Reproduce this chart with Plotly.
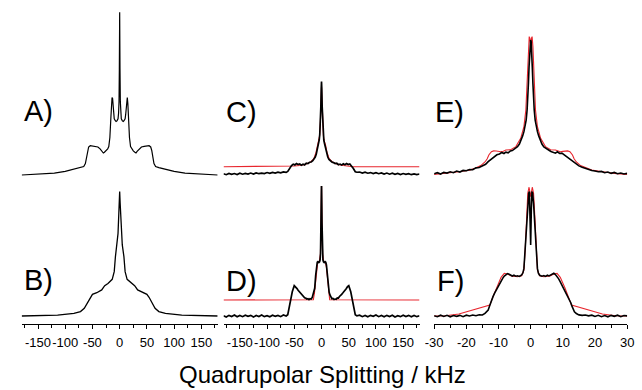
import plotly.graph_objects as go

# ---------------- data (kHz, normalised intensity) ----------------
A_x = [-180,-150,-120,-100,-85,-72,-66,-63,-61,-59,-57,-54,-50,-45,-40,-36,-32,-30,-28,-25,
       -22,-20,-18,-16,-15,-14,-13,-12,-11,-10,-8,-6.6,-5,-3,-2,-1.2,-0.6,-0.3,0,
       0.3,0.6,1.2,2,3,5,6.6,8,10,11,12,13,14,15,16,18,20,22,25,28,30,32,36,40,45,50,54,57,59,
       61,63,66,72,85,100,120,150,180]
A_y = [0.0,0.004,0.012,0.022,0.035,0.045,0.052,0.07,0.11,0.15,0.172,0.18,0.178,0.176,0.172,0.16,0.145,0.135,0.14,0.148,
       0.16,0.175,0.23,0.36,0.44,0.475,0.47,0.42,0.37,0.345,0.333,0.328,0.332,0.345,0.38,0.45,0.65,0.9,0.998,
       0.9,0.65,0.45,0.38,0.345,0.332,0.328,0.333,0.345,0.37,0.42,0.47,0.475,0.44,0.36,0.23,0.175,0.16,0.148,0.14,0.135,0.145,0.16,0.172,0.176,0.178,0.18,0.172,0.15,
       0.11,0.07,0.052,0.045,0.035,0.022,0.012,0.004,0.0]

B_x = [-180,-145,-114,-84,-72,-65,-60,-54,-50,-42,-33,-27.5,-21.5,-13.7,-10,-7.8,-4.8,-3,-1.8,-0.9,0,
       0.9,1.8,3,4.8,7.8,10,13.7,21.5,27.5,33,42,50,54,60,65,72,84,114,145,180]
B_y = [0,0.002,0.006,0.016,0.027,0.047,0.078,0.115,0.133,0.143,0.16,0.186,0.2,0.225,0.272,0.364,0.436,0.507,0.61,0.69,0.763,
       0.69,0.61,0.507,0.436,0.364,0.272,0.225,0.2,0.186,0.16,0.143,0.133,0.115,0.078,0.047,0.027,0.016,0.006,0.002,0]

C_x = [-180,-175,-170,-165,-160,-155,-150,-145,-140,-135,-130,-125,-120,-115,-110,-105,-100,-95,-90,-85,-80,-75,-70,-65,-62,
       -58.5,-55,-52,-49,-46,-43,-40,-37,-34,-31,-28,-25,-22,-19,-16,-13.7,-11.5,-9.6,-8,-6.6,-5.4,-4.2,-3.2,-2.4,-1.2,-0.5,0,
       0.5,1.2,2.4,3.2,4.2,5.4,6.6,8,9.6,11.5,13.7,16,19,22,25,28,31,34,37,40,43,46,49,52,55,58.5,
       62,65,70,75,80,85,90,95,100,105,110,115,120,125,130,135,140,145,150,155,160,165,170,175,180]
C_y = [0.008,0.002,0.01,0.004,0.009,0.003,0.011,0.005,0.01,0.006,0.012,0.006,0.013,0.008,0.012,0.009,0.015,0.01,0.016,0.012,0.017,0.013,0.019,0.016,0.022,
       0.041,0.058,0.066,0.062,0.07,0.064,0.068,0.06,0.066,0.062,0.072,0.07,0.078,0.08,0.088,0.096,0.11,0.129,0.15,0.174,0.195,0.215,0.25,0.297,0.42,0.53,0.573,
       0.53,0.42,0.297,0.25,0.215,0.195,0.174,0.15,0.129,0.11,0.096,0.086,0.08,0.076,0.07,0.072,0.063,0.067,0.061,0.069,0.063,0.07,0.064,0.068,0.057,0.04,
       0.02,0.017,0.018,0.012,0.017,0.011,0.015,0.009,0.014,0.008,0.013,0.006,0.012,0.005,0.011,0.004,0.01,0.003,0.009,0.004,0.008,0.002,0.007,0.003,0.006]
C_fit_x = [-180,-58,-50,-40,-30,-20,-14,-10,-7,-5,-3.5,-2,-1,0,1,2,3.5,5,7,10,14,20,30,40,50,58,180]
C_fit_y = [0.051,0.051,0.055,0.058,0.065,0.08,0.1,0.14,0.19,0.205,0.24,0.33,0.45,0.54,0.45,0.33,0.24,0.205,0.19,0.14,0.1,0.08,0.065,0.058,0.055,0.051,0.051]

D_x = [-180,-175,-170,-165,-160,-155,-150,-145,-140,-135,-130,-125,-120,-115,-110,-105,-100,-95,-90,-85,-80,-75,-70,-65,-62,
       -59.7,-57.3,-53.7,-50.1,-47.8,-45,-43,-41,-39,-37,-35,-33,-31,-29,-27,-25,-23,-21,-19,-17,-15.5,-14,-12.5,-10.7,-9,-7.8,-6.6,-5,-3.6,-2.6,-1.8,-0.9,0,
       0.9,1.8,2.6,3.6,5,6.6,7.8,9,10.7,12.5,14,15.5,17,19,21,23,25,27,29,31,33,35,37,39,41,43,45,47.8,50.1,53.7,57.3,59.7,
       62,65,70,75,80,85,90,95,100,105,110,115,120,125,130,135,140,145,150,155,160,165,170,175,180]
D_y = [0.002,-0.006,0.004,-0.003,0.006,-0.005,0.003,-0.004,0.005,-0.002,0.004,-0.006,0.003,-0.003,0.006,-0.004,0.002,-0.005,0.005,-0.002,0.004,-0.004,0.006,0.0,0.008,
       0.047,0.088,0.149,0.186,0.18,0.168,0.158,0.15,0.14,0.134,0.124,0.121,0.112,0.11,0.104,0.106,0.1,0.106,0.104,0.114,0.129,0.146,0.17,0.25,0.313,0.33,0.333,0.328,0.333,0.345,0.384,0.568,0.82,
       0.568,0.384,0.345,0.333,0.328,0.333,0.33,0.313,0.25,0.17,0.146,0.129,0.116,0.106,0.108,0.101,0.104,0.102,0.111,0.11,0.12,0.124,0.133,0.141,0.148,0.159,0.166,0.18,0.186,0.149,0.088,0.047,
       0.008,0.001,0.005,-0.004,0.003,-0.005,0.004,-0.002,0.006,-0.004,0.003,-0.005,0.004,-0.003,0.005,-0.006,0.002,-0.004,0.005,-0.003,0.004,-0.005,0.003,-0.004,0.002]
D_fit_x = [-180,-15,-13,-11,-9,-7,-4,-2,-1,0,1,2,4,7,9,11,13,15,180]
D_fit_y = [0.098,0.1,0.14,0.22,0.3,0.33,0.335,0.38,0.55,0.82,0.55,0.38,0.335,0.33,0.3,0.22,0.14,0.1,0.098]

E_x = [-30,-29,-28,-27,-26,-25,-24,-23,-22,-21,-20,-19,-18,-17,-16,-15,-14,-13.2,-12.5,-11.8,-11.2,-10.5,-9.7,-9,-8.3,-7.7,-7,-6.3,-5.7,-5,-4.4,-4.1,-3.5,-2.9,-2.5,-2.1,-1.7,-1.4,-1.1,-0.9,-0.7,-0.5,-0.3,-0.15,0,
       0.15,0.3,0.5,0.7,0.9,1.1,1.4,1.7,2.1,2.5,2.9,3.5,4.1,4.4,5,5.7,6.3,7,7.7,8.3,9,9.7,10.5,11.2,11.8,12.5,13.2,14,15,16,17,18,19,20,21,22,23,24,25,26,27,28,29,30]
E_y = [0.008,0.014,0.006,0.016,0.012,0.02,0.014,0.024,0.018,0.028,0.026,0.034,0.032,0.044,0.046,0.058,0.066,0.082,0.094,0.106,0.112,0.124,0.129,0.138,0.132,0.14,0.136,0.148,0.15,0.16,0.17,0.174,0.19,0.215,0.24,0.266,0.3,0.337,0.4,0.46,0.56,0.665,0.78,0.82,0.828,
       0.82,0.78,0.665,0.56,0.46,0.4,0.337,0.3,0.266,0.24,0.215,0.19,0.172,0.168,0.156,0.152,0.144,0.14,0.134,0.142,0.132,0.134,0.122,0.114,0.104,0.096,0.08,0.068,0.056,0.048,0.04,0.034,0.028,0.024,0.02,0.022,0.014,0.018,0.01,0.016,0.008,0.012,0.006,0.01]
E_fit_x = [-30,-26,-22.3,-19,-17.3,-15.5,-14.2,-13.5,-13,-12.2,-11.5,-10.7,-10,-9.2,-8.5,-7.7,-6.2,-4.6,-3.1,-2.1,-1.5,-1,-0.7,-0.45,-0.25,0,
           0.25,0.45,0.7,1,1.5,2.1,3.1,4.6,6.2,7.7,8.5,9.2,10,10.7,11.5,12.2,13,13.5,14.2,15.5,17.3,19,22.3,26,30]
E_fit_y = [0.004,0.01,0.02,0.03,0.041,0.058,0.08,0.1,0.123,0.143,0.148,0.147,0.145,0.143,0.146,0.153,0.155,0.174,0.225,0.297,0.399,0.624,0.787,0.849,0.84,0.8,
           0.84,0.849,0.787,0.624,0.399,0.297,0.225,0.174,0.155,0.153,0.146,0.143,0.145,0.147,0.148,0.143,0.123,0.1,0.08,0.058,0.041,0.03,0.02,0.01,0.004]

F_x = [-30,-29,-28,-27,-26,-25,-24,-23,-22,-21,-20,-19,-18,-17,-16,-15,-14.2,-13.6,-13.2,-12.8,-12.5,-12.1,-11.7,-11.2,-10.7,-10.2,-9.7,-9.2,-8.7,-8.2,-7.7,-7.2,-6.7,-6.2,-5.7,-5.2,-4.6,-4.1,-3.5,-2.8,-2.4,-2.1,-1.7,-1.3,-0.9,-0.6,-0.4,-0.2,0,
       0.2,0.4,0.6,0.9,1.3,1.7,2.1,2.4,2.8,3.5,4.1,4.6,5.2,5.7,6.2,6.7,7.2,7.7,8.2,8.7,9.2,9.7,10.2,10.7,11.2,11.7,12.1,12.5,12.8,13.2,13.6,14.2,15,16,17,18,19,20,21,22,23,24,25,26,27,28,29,30]
F_y = [0.002,-0.004,0.005,-0.003,0.004,-0.005,0.003,-0.002,0.004,-0.004,0.005,0.0,0.006,0.002,0.008,0.006,0.016,0.028,0.037,0.06,0.078,0.1,0.119,0.14,0.16,0.176,0.19,0.212,0.231,0.245,0.252,0.26,0.256,0.25,0.245,0.25,0.244,0.247,0.243,0.252,0.265,0.292,0.405,0.568,0.691,0.753,0.763,0.65,0.436,
       0.65,0.763,0.753,0.691,0.568,0.405,0.292,0.262,0.25,0.244,0.248,0.243,0.25,0.246,0.252,0.258,0.262,0.254,0.244,0.228,0.21,0.19,0.174,0.158,0.138,0.117,0.1,0.08,0.062,0.038,0.026,0.015,0.007,0.004,0.006,0.001,0.005,-0.003,0.004,-0.004,0.003,-0.005,0.004,-0.002,0.005,-0.004,0.003,0.001]
F_fit_x = [-30,-26.4,-22.3,-12.7,-11.7,-10.7,-9.2,-8.2,-7.2,-6,-4.1,-2.8,-2.1,-1.7,-1.3,-0.9,-0.5,0,
           0.5,0.9,1.3,1.7,2.1,2.8,4.1,6,7.2,8.2,9.2,10.7,11.7,12.7,22.3,26.4,30]
F_fit_y = [0,0.002,0.012,0.067,0.119,0.17,0.237,0.262,0.258,0.245,0.241,0.247,0.282,0.405,0.609,0.753,0.79,0.732,
           0.79,0.753,0.609,0.405,0.282,0.247,0.241,0.245,0.258,0.262,0.237,0.17,0.119,0.067,0.012,0.002,0]

wide_ticks = [-150,-100,-50,0,50,100,150]
wide_text = ["-150","-100","-50","0","50","100","150"]
wide_minor = [-175,-125,-75,-25,25,75,125,175]
narrow_ticks = [-30,-20,-10,0,10,20,30]
narrow_text = ["-30","-20","-10","0","10","20","30"]
narrow_minor = [-25,-15,-5,5,15,25]

panel_labels = ["A)", "B)", "C)", "D)", "E)", "F)"]
x_title = "Quadrupolar Splitting / kHz"

# ---------------- figure ----------------
W, H = 642, 390
BLACK = "#000000"
RED = "#e8262e"
FONT = "Liberation Sans, Arial, sans-serif"

def px_x(p):
    return p / W

def px_y(p):
    return 1 - p / H

fig = go.Figure()

def add(x, y, ax, color, width):
    fig.add_trace(go.Scatter(x=x, y=y, mode="lines", xaxis="x" + ax, yaxis="y" + ax,
                             line=dict(color=color, width=width), hoverinfo="skip",
                             showlegend=False))

add(A_x, A_y, "", BLACK, 1.2)
add(C_fit_x, C_fit_y, "2", RED, 1.1)
add(C_x, C_y, "2", BLACK, 1.7)
add(E_fit_x, E_fit_y, "3", RED, 1.1)
add(E_x, E_y, "3", BLACK, 1.6)
add(B_x, B_y, "4", BLACK, 1.3)
add(D_fit_x, D_fit_y, "5", RED, 1.1)
add(D_x, D_y, "5", BLACK, 1.7)
add(F_fit_x, F_fit_y, "6", RED, 1.1)
add(F_x, F_y, "6", BLACK, 1.6)

cols = [(13, 214, [-180, 180]), (220, 421, [-180, 180]), (436, 634, [-30, 30])]
top_dom = [px_y(184), px_y(8)]
bot_dom = [px_y(324), px_y(186)]
top_rng = [-0.0552, 1.0245]
bot_rng = [-0.049, 0.7975]

layout = dict(width=W, height=H, margin=dict(l=0, r=0, t=0, b=0),
              paper_bgcolor="white", plot_bgcolor="white",
              font=dict(family=FONT, color=BLACK))

names = ["", "2", "3", "4", "5", "6"]
for i, n in enumerate(names):
    row = 0 if i < 3 else 1
    c = i % 3
    x0, x1, rng = cols[c]
    xa = dict(domain=[px_x(x0), px_x(x1)], range=rng, anchor="y" + n,
              showgrid=False, zeroline=False, fixedrange=True)
    ya = dict(domain=top_dom if row == 0 else bot_dom,
              range=top_rng if row == 0 else bot_rng, anchor="x" + n,
              visible=False, fixedrange=True)
    if row == 0:
        xa["visible"] = False
    else:
        wide = c < 2
        xa.update(showline=True, linecolor=BLACK, linewidth=1, mirror=False,
                  ticks="outside", ticklen=4, tickwidth=1, tickcolor=BLACK,
                  tickmode="array",
                  tickvals=wide_ticks if wide else narrow_ticks,
                  ticktext=wide_text if wide else narrow_text,
                  tickfont=dict(size=13, family=FONT, color=BLACK),
                  tickangle=0,
                  ticklabelstandoff=2,
                  minor=dict(tickmode="array",
                             tickvals=wide_minor if wide else narrow_minor,
                             ticks="outside", ticklen=3, tickcolor=BLACK, tickwidth=1,
                             showgrid=False))
    layout["xaxis" + n] = xa
    layout["yaxis" + n] = ya

fig.update_layout(**layout)

label_pos = {"A)": (13, 111), "B)": (13, 280), "C)": (221, 112),
             "D)": (221, 281), "E)": (435, 112), "F)": (437, 281)}
for lab in panel_labels:
    lx, ly = label_pos[lab]
    fig.add_annotation(text=lab, x=px_x(lx), y=px_y(ly), xref="paper", yref="paper",
                       xanchor="left", yanchor="middle", showarrow=False,
                       font=dict(size=29, family=FONT, color=BLACK))

fig.add_annotation(text=x_title, x=px_x(321), y=px_y(374), xref="paper", yref="paper",
                   xanchor="center", yanchor="middle", showarrow=False,
                   font=dict(size=24, family=FONT, color=BLACK))

fig.write_html("out.html", config={"displayModeBar": False},
               post_script="document.body.style.margin='0';document.body.style.overflow='hidden';")
